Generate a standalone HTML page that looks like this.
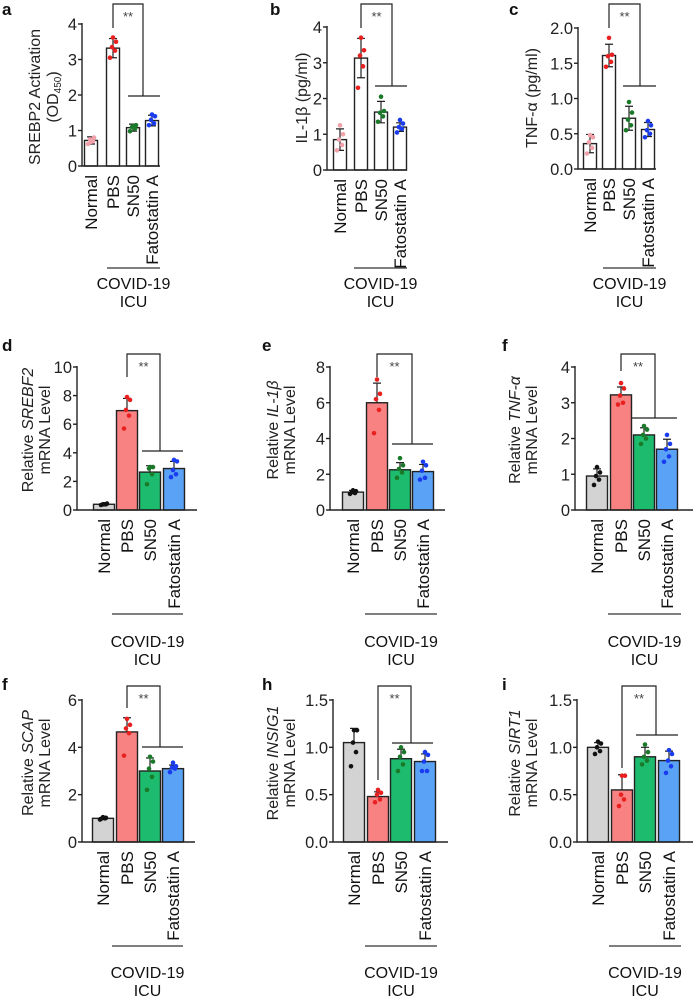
<!DOCTYPE html>
<html><head><meta charset="utf-8">
<style>
html,body{margin:0;padding:0;background:#fff;}
svg{display:block;font-family:"Liberation Sans",Arial,sans-serif;}
</style></head>
<body>
<svg id="fig" width="693" height="998" viewBox="0 0 693 998" xmlns="http://www.w3.org/2000/svg"></svg>
<script>
const categories = ["Normal","PBS","SN50","Fatostatin A"];
// panel a
const aMeans=[0.72,3.32,1.08,1.28]; const aSD=[0.1,0.27,0.1,0.15];
const aPts=[[0.62,0.7,0.75,0.8,0.68],[3.05,3.25,3.35,3.5,3.62],[0.98,1.05,1.1,1.15,1.12],[1.15,1.2,1.3,1.4,1.45]];
const aTicks=[0,1,2,3,4];
// panel b
const bMeans=[0.85,3.13,1.62,1.2]; const bSD=[0.3,0.55,0.3,0.12];
const bPts=[[0.55,0.7,0.85,1.0,1.25],[2.3,2.9,3.2,3.35,3.7],[1.35,1.5,1.6,1.65,2.05],[1.05,1.15,1.2,1.3,1.4]];
const bTicks=[0,1,2,3,4];
// panel c
const cMeans=[0.36,1.61,0.72,0.56]; const cSD=[0.13,0.16,0.17,0.1];
const cPts=[[0.22,0.3,0.38,0.45,0.48],[1.45,1.52,1.6,1.62,1.86],[0.55,0.62,0.7,0.8,0.95],[0.45,0.5,0.55,0.62,0.68]];
const cTicks=[0,0.5,1,1.5,2];
// panel d
const dMeans=[0.4,6.95,2.65,2.9]; const dSD=[0.05,0.85,0.45,0.5];
const dPts=[[0.35,0.4,0.4,0.45,0.4],[5.7,6.6,7.0,7.7,7.9],[1.8,2.5,2.9,3.0,3.0],[2.3,2.5,2.8,3.4,3.5]];
const dTicks=[0,2,4,6,8,10];
// panel e
const eMeans=[1.0,6.0,2.25,2.15]; const eSD=[0.1,1.1,0.4,0.4];
const ePts=[[0.9,0.95,1.0,1.05,1.1],[4.3,5.6,6.2,6.5,7.3],[1.8,2.1,2.3,2.5,2.9],[1.7,1.8,2.2,2.5,2.7]];
const eTicks=[0,2,4,6,8];
// panel f (TNF-a mRNA)
const fMeans=[0.95,3.22,2.1,1.7]; const fSD=[0.2,0.22,0.2,0.28];
const fPts=[[0.7,0.85,0.95,1.05,1.2],[2.95,3.0,3.2,3.4,3.55],[1.85,2.0,2.1,2.25,2.35],[1.35,1.5,1.7,1.85,2.1]];
const fTicks=[0,1,2,3,4];
// panel g (SCAP)
const gMeans=[1.0,4.65,3.0,3.1]; const gSD=[0.03,0.6,0.55,0.15];
const gPts=[[0.95,1.0,1.0,1.02,1.05],[3.65,4.6,4.8,4.95,5.2],[2.2,2.75,3.1,3.4,3.6],[2.95,3.1,3.15,3.2,3.35]];
const gTicks=[0,2,4,6];
// panel h (INSIG1)
const hMeans=[1.05,0.48,0.88,0.85]; const hSD=[0.15,0.05,0.1,0.08];
const hPts=[[0.8,0.95,1.05,1.18,1.18],[0.42,0.45,0.5,0.52,0.55],[0.75,0.82,0.9,0.95,1.0],[0.75,0.75,0.85,0.92,0.95]];
const hTicks=[0,0.5,1,1.5];
// panel i (SIRT1)
const iMeans=[1.0,0.55,0.9,0.86]; const iSD=[0.05,0.16,0.1,0.1];
const iPts=[[0.93,0.96,1.0,1.04,1.06],[0.38,0.45,0.5,0.7,0.7],[0.82,0.86,0.9,0.95,1.03],[0.73,0.8,0.86,0.93,0.97]];
const iTicks=[0,0.5,1,1.5];

const NS="http://www.w3.org/2000/svg";
const svg=document.getElementById('fig');
function mk(tag,attrs,parent,txt){const e=document.createElementNS(NS,tag);for(const k in attrs)e.setAttribute(k,attrs[k]);if(txt!==undefined)e.textContent=txt;(parent||svg).appendChild(e);return e;}

function panel(p){
  const g=mk('g',{});
  
  
  const y0=p.y0,y1=p.y1,vmax=p.ticks[p.ticks.length-1];
  const Y=v=>y0-(v/vmax)*(y0-y1);
  const X=i=>p.cx[i];
  const L=mk('text',{x:p.lx,y:p.ly,'font-size':17,'font-weight':'bold',fill:'#111'},g,p.letter);
  
  
  const fills=p.filled?['#d3d3d3','#f88282','#1dbb6e','#5aa2f6']:['#fff','#fff','#fff','#fff'];
  const dotc=p.filled?['#111','#e82020','#1a7a2a','#1a3cf0']:['#f2a0aa','#e82020','#1a7a2a','#1a3cf0'];
  p.means.forEach((m,i)=>{
    const r=mk('rect',{x:X(i)-p.bw/2,y:Y(m),width:p.bw,height:y0-Y(m),fill:fills[i],stroke:'#222','stroke-width':1.4},g);
    
    
  });
  p.means.forEach((m,i)=>{
    const top=Y(m+p.sd[i]),bot=p.filled?Y(m):Y(m-p.sd[i]);
    const e=mk('path',{d:`M${X(i)},${top}V${bot}M${X(i)-4},${top}H${X(i)+4}`+(p.filled?'':`M${X(i)-4},${bot}H${X(i)+4}`),stroke:'#222','stroke-width':1.2,fill:'none'},g);
    
    
  });
  p.pts.forEach((arr,i)=>{
    arr.forEach((v,j)=>{
      const off=[-3,2,-1,3,0][j];
      const c=mk('circle',{cx:X(i)+off,cy:Y(v),r:2.3,fill:dotc[i]},g);
      
      
    });
  });
  const ax=mk('path',{d:`M${p.ax},${y1-1}V${y0}H${p.axEnd}`,stroke:'#222','stroke-width':1.4,fill:'none'},g);
  
  
  p.ticks.forEach(t=>{
    mk('line',{x1:p.ax-4,x2:p.ax,y1:Y(t),y2:Y(t),stroke:'#222','stroke-width':1.4},g);
    const tl=mk('text',{x:p.ax-5,y:Y(t)+6,'font-size':16.5,'text-anchor':'end',fill:'#222'},g,p.fmt?t.toFixed(1):String(t));
    
    
  });
  categories.forEach((c,i)=>{
    const t=mk('text',{x:0,y:0,'font-size':17,'text-anchor':'end',fill:'#111',transform:`translate(${X(i)+6},${y0+9}) rotate(-90)`},g,c);
    
    
  });
  const yt=mk('text',{x:0,y:0,'font-size':16,'text-anchor':'middle',fill:'#222',transform:`translate(${p.tx},${p.ty}) rotate(-90)`},g);
  
  
  p.title(yt);
  const br=mk('path',{d:`M${X(1)},${p.bl}V${p.btop}H${p.bx}V${p.hy}M${p.h1},${p.hy}H${p.h2}`,stroke:'#222','stroke-width':1.2,fill:'none'},g);
  
  
  const st=mk('text',{x:(X(1)+p.bx)/2,y:p.btop+17,'font-size':13,'text-anchor':'middle',fill:'#444'},g,'**');
  
  
  const ul=mk('line',{x1:p.u1,x2:p.u2,y1:p.uy,y2:p.uy,stroke:'#333','stroke-width':1.3},g);
  
  
  const gl=mk('text',{x:(p.u1+p.u2)/2,y:p.gy,'font-size':16,'text-anchor':'middle',fill:'#111'},g,'COVID-19');
  
  
  const gl2=mk('text',{x:(p.u1+p.u2)/2,y:p.gy+18,'font-size':16,'text-anchor':'middle',fill:'#111'},g,'ICU');
  
  
}
function two(l1a,l1b,l1c,l2){return t=>{
  const s1=mk('tspan',{x:0,dy:-3},t);s1.textContent=l1a;
  const s2=mk('tspan',{'font-style':'italic'},t);s2.textContent=l1b;
  if(l1c){const s3=mk('tspan',{},t);s3.textContent=l1c;}
  const s4=mk('tspan',{x:0,dy:17},t);s4.textContent=l2;
};}

panel({id:'a',letter:'a',lx:2,ly:15,means:aMeans,sd:aSD,pts:aPts,ticks:aTicks,y0:166,y1:24,cx:[91,113,133,152],bw:13,ax:82,axEnd:160,filled:false,
  tx:44,ty:97,title:t=>{mk('tspan',{x:0,dy:-4},t).textContent='SREBP2 Activation';mk('tspan',{x:0,dy:18},t).textContent='(OD';mk('tspan',{'font-size':10,dy:3},t).textContent='450';mk('tspan',{dy:-3},t).textContent=')';},
  bl:28,btop:4,bx:143,hy:96,h1:128,h2:160,u1:107,u2:160,uy:268,gy:289});
panel({id:'b',letter:'b',lx:270,ly:15,means:bMeans,sd:bSD,pts:bPts,ticks:bTicks,y0:170,y1:27,cx:[340,361,381,400],bw:13,ax:327,axEnd:407,filled:false,
  tx:307,ty:98,title:t=>{t.textContent='IL-1β (pg/ml)';},
  bl:28,btop:4,bx:392,hy:86,h1:375,h2:407,u1:354,u2:407,uy:268,gy:289});
panel({id:'c',letter:'c',lx:509,ly:15,means:cMeans,sd:cSD,pts:cPts,ticks:cTicks,y0:169,y1:28,cx:[590,609,629,648],bw:13,ax:578,axEnd:656,filled:false,fmt:true,
  tx:537,ty:98,title:t=>{t.textContent='TNF-α (pg/ml)';},
  bl:28,btop:4,bx:640,hy:86,h1:623,h2:656,u1:603,u2:656,uy:268,gy:289});

panel({id:'d',letter:'d',lx:2,ly:351,means:dMeans,sd:dSD,pts:dPts,ticks:dTicks,y0:510,y1:367,cx:[104,127,150,174],bw:21,ax:77,axEnd:197,filled:true,
  tx:36,ty:430,title:two('Relative ','SREBF2','','mRNA Level'),
  bl:377,btop:354,bx:160,hy:451,h1:142,h2:183,u1:112,u2:183,uy:614,gy:647});
panel({id:'e',letter:'e',lx:262,ly:351,means:eMeans,sd:eSD,pts:ePts,ticks:eTicks,y0:510,y1:367,cx:[353,377,400,423],bw:21,ax:330,axEnd:445,filled:true,
  tx:281,ty:430,title:two('Relative ','IL-1β','','mRNA Level'),
  bl:377,btop:354,bx:412,hy:444,h1:392,h2:433,u1:365,u2:437,uy:614,gy:647});
panel({id:'f',letter:'f',lx:502,ly:351,means:fMeans,sd:fSD,pts:fPts,ticks:fTicks,y0:510,y1:367,cx:[597,621,644,667],bw:21,ax:575,axEnd:693,filled:true,
  tx:523,ty:430,title:two('Relative ','TNF-α','','mRNA Level'),
  bl:371,btop:354,bx:655,hy:418,h1:632,h2:677,u1:608,u2:681,uy:614,gy:647});

panel({id:'g',letter:'f',lx:2,ly:690,means:gMeans,sd:gSD,pts:gPts,ticks:gTicks,y0:842,y1:700,cx:[103,127,150,173],bw:21,ax:82,axEnd:195,filled:true,
  tx:36,ty:763,title:two('Relative ','SCAP','','mRNA Level'),
  bl:708,btop:686,bx:160,hy:747,h1:142,h2:183,u1:112,u2:183,uy:946,gy:978});
panel({id:'h',letter:'h',lx:262,ly:690,means:hMeans,sd:hSD,pts:hPts,ticks:hTicks,y0:842,y1:700,cx:[354,378,401,425],bw:21,ax:333,axEnd:448,filled:true,fmt:true,
  tx:281,ty:763,title:two('Relative ','INSIG1','','mRNA Level'),
  bl:780,btop:686,bx:411,hy:743,h1:392,h2:433,u1:365,u2:437,uy:946,gy:978});
panel({id:'i',letter:'i',lx:502,ly:690,means:iMeans,sd:iSD,pts:iPts,ticks:iTicks,y0:842,y1:700,cx:[598,622,645,669],bw:21,ax:577,axEnd:693,filled:true,fmt:true,
  tx:523,ty:763,title:two('Relative ','SIRT1','','mRNA Level'),
  bl:768,btop:686,bx:656,hy:735,h1:636,h2:678,u1:609,u2:681,uy:946,gy:978});
</script>
</body></html>
